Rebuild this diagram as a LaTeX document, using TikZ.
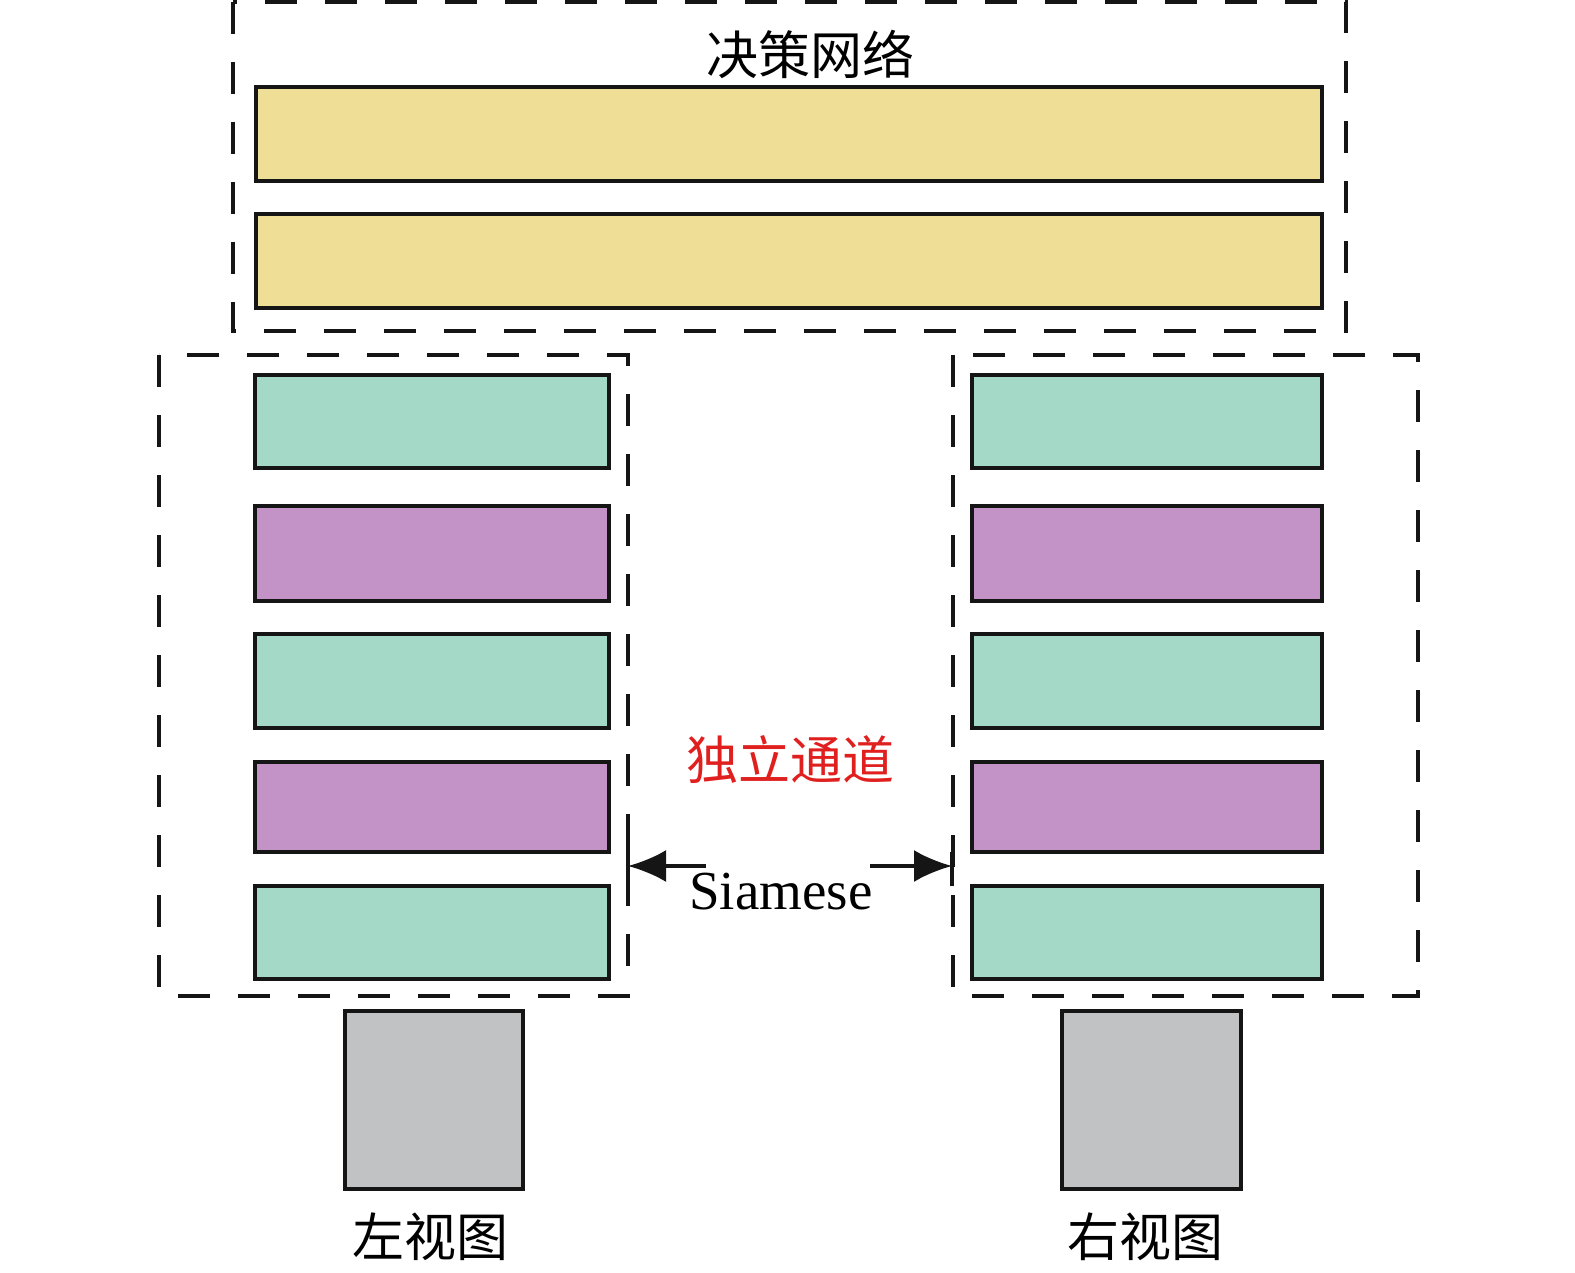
\documentclass[tikz,border=0pt]{standalone}
\usepackage{fontspec}
\setmainfont{Liberation Serif}
\newfontfamily\cjk{Noto Sans CJK SC}
\usetikzlibrary{arrows.meta}
\definecolor{cyel}{HTML}{EFDE95}
\definecolor{cgrn}{HTML}{A3D9C6}
\definecolor{cpur}{HTML}{C393C8}
\definecolor{cgry}{HTML}{C1C2C4}
\definecolor{cred}{HTML}{E0201F}
\definecolor{cblk}{HTML}{151515}
\tikzset{
  layer/.style={draw=cblk, line width=3.8pt},
  dbox/.style={draw=cblk, line width=3.4pt, dash pattern=on 32pt off 28pt},
  lbl/.style={font=\cjk\fontsize{52}{60}\selectfont, inner sep=0pt},
  sarrow/.style={line width=3.4pt, draw=cblk, -{Latex[length=38pt,width=32pt]}}
}
\begin{document}
\begin{tikzpicture}[x=1pt,y=-1pt]
\useasboundingbox (0,0) rectangle (1575,1273);
% dashed group boxes
\draw[dbox] (233,2) rectangle (1346,331);
\draw[dbox] (159,355) rectangle (628,996);
\draw[dbox] (953,355) rectangle (1418,996);
% title
\node[lbl] (title) at (810,54) {决策网络};
% decision layers
\path[layer, fill=cyel] (256,87) rectangle (1322,181);
\path[layer, fill=cyel] (256,214) rectangle (1322,308);
% left column
\path[layer, fill=cgrn] (255,375) rectangle (609,468);
\path[layer, fill=cpur] (255,506) rectangle (609,601);
\path[layer, fill=cgrn] (255,634) rectangle (609,728);
\path[layer, fill=cpur] (255,762) rectangle (609,852);
\path[layer, fill=cgrn] (255,886) rectangle (609,979);
% right column
\path[layer, fill=cgrn] (972,375) rectangle (1322,468);
\path[layer, fill=cpur] (972,506) rectangle (1322,601);
\path[layer, fill=cgrn] (972,634) rectangle (1322,728);
\path[layer, fill=cpur] (972,762) rectangle (1322,852);
\path[layer, fill=cgrn] (972,886) rectangle (1322,979);
% inputs
\path[layer, fill=cgry] (345,1011) rectangle (523,1189);
\path[layer, fill=cgry] (1062,1011) rectangle (1241,1189);
\node[lbl] (lv) at (430,1237) {左视图};
\node[lbl] (rv) at (1145,1237) {右视图};
% middle labels
\node[lbl, text=cred] (indep) at (790,760) {独立通道};
\node[font=\fontsize{55}{60}\selectfont, inner sep=0pt] (siam) at (781,892) {Siamese};
\coordinate (la) at (706,866);
\coordinate (lb) at (628,866);
\coordinate (ra) at (870,866);
\coordinate (rb) at (952,866);
\draw[sarrow] (la) -- (lb);
\draw[sarrow] (ra) -- (rb);
\draw[line width=3.4pt, draw=cblk] (628,846) -- (628,882);
\draw[line width=3.4pt, draw=cblk] (952,852) -- (952,886);
\end{tikzpicture}
\end{document}
